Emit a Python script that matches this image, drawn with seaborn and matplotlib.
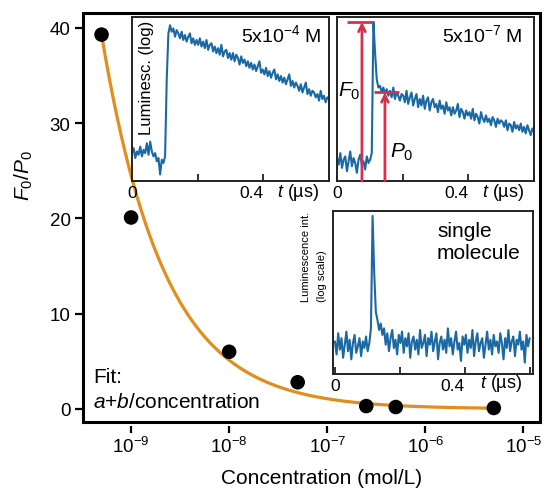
import numpy as np
import matplotlib
matplotlib.use("Agg")
import matplotlib.pyplot as plt
from matplotlib.patches import Rectangle
from matplotlib.ticker import NullLocator
import seaborn as sns

# ---- F0/P0 ratio versus concentration ----
concentration = [5e-10, 1e-9, 1e-8, 5e-8, 2.5e-7, 5e-7, 5e-6]
ratio = [39.3, 20.1, 6.0, 2.8, 0.3, 0.2, 0.1]

# fitted curve: offset + amplitude * concentration^(-exponent)
fit_offset = 0.0
fit_amplitude = 1.86e-5
fit_exponent = 0.68

y_ticks = [0, 10, 20, 30, 40]
x_ticks = [1e-9, 1e-8, 1e-7, 1e-6, 1e-5]
x_tick_labels = [r"$10^{-9}$", r"$10^{-8}$", r"$10^{-7}$", r"$10^{-6}$", r"$10^{-5}$"]

# ---- luminescence transients (log intensity, arbitrary units) ----
trace_high = [
    17, 20, 14, 18, 16, 21, 15, 19, 17, 23, 16, 24, 18, 15, 17, 12, 14, 4, 13, 11, 15,
    62, 90,
    95, 91, 93, 88, 92, 90, 87,
    91, 86, 89, 85, 88, 90, 84, 87, 83, 86,
    83, 87, 82, 85, 81, 86, 80, 83, 84, 79,
    82, 78, 81, 77, 83, 76, 79, 80, 75, 78,
    74, 78, 73, 77, 75, 71, 76, 72, 74, 70,
    73, 69, 72, 68, 71, 67, 70, 73, 66, 68,
    65, 69, 64, 67, 63, 66, 68, 62, 65, 61,
    64, 60, 63, 59, 62, 65, 58, 61, 57, 60,
    58, 55, 59, 54, 57, 60, 53, 56, 52, 55,
    54, 51, 53, 49, 55, 50, 52, 48, 51, 50,
]
trace_low = [
    14, 10, 17, 8, 13, 15, 6, 12, 18, 9, 14, 11, 5, 13, 16, 10, 12, 7, 15, 11, 13, 17,
    97, 78, 62, 57,
    58, 54, 57, 53,
    56, 52, 55, 51, 57, 50, 54, 52, 49, 53,
    52, 48, 55, 47, 51, 54, 46, 50, 53, 45,
    50, 46, 52, 44, 49, 51, 43, 48, 50, 45,
    47, 42, 49, 44, 46, 41, 48, 43, 45, 40,
    45, 41, 43, 47, 39, 44, 42, 38, 43, 40,
    42, 38, 44, 37, 41, 39, 35, 42, 38, 36,
    40, 36, 38, 34, 39, 37, 33, 38, 35, 37,
    36, 33, 37, 31, 35, 34, 30, 36, 32, 34,
    31, 35, 30, 33, 29, 34, 31, 28, 32, 30,
]
trace_single = [
    20, 12, 25, 15, 22, 10, 18, 26, 14, 21, 9, 19, 24, 13, 17, 22, 11, 20, 16, 23, 14, 19,
    28, 97, 62, 38, 33, 27, 31, 24,
    28, 18, 25, 14, 22, 27, 16, 21, 12, 24,
    19, 26, 13, 22, 17, 25, 10, 20, 23, 15,
    21, 12, 27, 16, 19, 24, 11, 22, 18, 26,
    14, 20, 25, 9, 19, 23, 15, 21, 13, 28,
    17, 22, 12, 20, 26, 15, 19, 8, 23, 18,
    24, 13, 21, 16, 27, 11, 20, 25, 14, 19,
    22, 10, 18, 26, 15, 21, 12, 24, 17, 20,
    13, 25, 19, 9, 22, 16, 27, 14, 20, 23,
    11, 21, 18, 26, 15, 20, 7, 24, 17, 22,
]
trace_span_us = 0.6

# levels marked on the 5x10^-7 M transient
F0_level = 97
P0_level = 54

conc_labels = [r"5x10$^{-4}$ M", r"5x10$^{-7}$ M"]

ORANGE = "#E38D1C"
BLUE = "#1A69A4"
RED = "#D7304A"

sns.set_theme(style="ticks")
plt.rcParams["font.family"] = ["Liberation Sans", "DejaVu Sans"]
plt.rcParams["mathtext.fontset"] = "custom"
plt.rcParams["mathtext.rm"] = "Liberation Sans"
plt.rcParams["mathtext.it"] = "Liberation Sans:italic"
plt.rcParams["mathtext.bf"] = "Liberation Sans:bold"
plt.rcParams["mathtext.sf"] = "Liberation Sans"
for key in ["text.color", "axes.labelcolor", "xtick.color", "ytick.color",
            "xtick.labelcolor", "ytick.labelcolor"]:
    plt.rcParams[key] = "black"

fig = plt.figure(figsize=(5.44, 4.89), dpi=100)
fig.patch.set_facecolor("white")

# ---------------- main panel ----------------
ax = fig.add_axes([0.1526, 0.135, 0.8401, 0.8364])
ax.set_facecolor("white")
ax.set_xscale("log")

c_fit = np.logspace(np.log10(min(concentration)), np.log10(max(concentration)), 300)
r_fit = fit_offset + fit_amplitude * c_fit ** (-fit_exponent)
sns.lineplot(x=c_fit, y=r_fit, color=ORANGE, lw=2.3, ax=ax, zorder=3, estimator=None)
sns.scatterplot(x=concentration, y=ratio, s=110, color="black", edgecolor="none",
                ax=ax, zorder=4)

ax.set_xlim(10 ** -9.49, 10 ** -4.83)
ax.set_ylim(-1.37, 41.57)
ax.set_yticks(y_ticks)
ax.set_xticks(x_ticks)
ax.set_xticklabels(x_tick_labels)
ax.xaxis.set_minor_locator(NullLocator())
ax.yaxis.set_minor_locator(NullLocator())

for side in ["top", "right", "left", "bottom"]:
    ax.spines[side].set_visible(False)
ax.spines["bottom"].set_position(("outward", 3))
ax.add_patch(Rectangle((0, 0), 1, 1, transform=ax.transAxes, fill=False,
                       lw=2.2, ec="black", clip_on=False, zorder=6))

ax.tick_params(axis="y", direction="out", length=6, width=1.6, labelsize=13.5,
               pad=3, color="black", labelcolor="black")
ax.tick_params(axis="x", direction="out", length=5, width=1.6, labelsize=13.5,
               pad=2, color="black", labelcolor="black")

ax.set_ylabel(r"$F_0/P_0$", fontsize=15)
ax.yaxis.set_label_coords(-0.105, 0.604)
ax.set_xlabel("Concentration (mol/L)", fontsize=15)
ax.xaxis.set_label_coords(0.523, -0.112)

ax.text(0.022, 0.112, "Fit:", fontsize=15, va="center", ha="left", transform=ax.transAxes)
ax.text(0.022, 0.051, r"$a$+$b$/concentration", fontsize=15, va="center", ha="left",
        transform=ax.transAxes)


# ---------------- inset transients ----------------
def make_inset(rect, xlim):
    a = fig.add_axes(rect)
    a.set_facecolor("white")
    a.set_zorder(10)
    for side in a.spines.values():
        side.set_linewidth(1.4)
        side.set_color("#222222")
    a.set_xlim(*xlim)
    a.set_ylim(0, 100)
    a.set_yticks([])
    a.set_xticks([0, 0.2, 0.4, 0.6])
    labels = a.set_xticklabels(["0", "", "0.4", ""])
    labels[2].set_horizontalalignment("right")
    a.tick_params(axis="x", direction="in", length=5, width=1.3, labelsize=12.5,
                  pad=3, color="#222222")
    a.text(0.843, -0.067, r"$t$ (µs)", fontsize=13, ha="center", va="center",
           transform=a.transAxes)
    return a


def draw_trace(a, values):
    t = np.linspace(0, trace_span_us, len(values))
    sns.lineplot(x=t, y=values, color=BLUE, lw=1.5, ax=a, estimator=None, zorder=2)
    a.set_xlabel("")
    a.set_ylabel("")


ax1 = make_inset([0.2426, 0.6278, 0.3621, 0.3354], (0, 0.6))
draw_trace(ax1, trace_high)
ax1.text(0.964, 0.896, conc_labels[0], fontsize=14, ha="right", va="center",
         transform=ax1.transAxes)
ax1.text(0.076, 0.634, "Luminesc. (log)", fontsize=12, rotation=90, ha="center",
         va="center", transform=ax1.transAxes)

ax2 = make_inset([0.6195, 0.6278, 0.3621, 0.3354], (0, 0.6))
draw_trace(ax2, trace_low)
ax2.text(0.944, 0.896, conc_labels[1], fontsize=14, ha="right", va="center",
         transform=ax2.transAxes)
# F0: prompt peak level, P0: delayed plateau level
ax2.plot([0.03, 0.109], [F0_level, F0_level], color=RED, lw=2, zorder=3,
         solid_capstyle="butt")
ax2.annotate("", xy=(0.076, F0_level), xytext=(0.076, 0),
             arrowprops=dict(arrowstyle="->", color=RED, lw=2, shrinkA=0, shrinkB=0,
                             mutation_scale=12), zorder=3)
ax2.plot([0.112, 0.19], [P0_level, P0_level], color=RED, lw=2, zorder=3,
         solid_capstyle="butt")
ax2.annotate("", xy=(0.146, P0_level), xytext=(0.146, 0),
             arrowprops=dict(arrowstyle="->", color=RED, lw=2, shrinkA=0, shrinkB=0,
                             mutation_scale=12), zorder=3)
ax2.text(0.062, 0.555, r"$F_0$", fontsize=15, ha="center", va="center",
         transform=ax2.transAxes)
ax2.text(0.33, 0.183, r"$P_0$", fontsize=15, ha="center", va="center",
         transform=ax2.transAxes)

ax3 = make_inset([0.6121, 0.2331, 0.3676, 0.3333], (-0.006, 0.61))
draw_trace(ax3, trace_single)
ax3.texts[0].set_position((0.84, -0.05))
ax3.text(0.52, 0.94, "single\nmolecule", fontsize=15, ha="left", va="top",
         linespacing=1.2, transform=ax3.transAxes)
ax3.text(-0.095, 0.448, "Luminescence int.\n(log scale)", fontsize=8, rotation=90,
         ha="center", va="bottom", multialignment="left", linespacing=1.75,
         transform=ax3.transAxes)

fig.savefig("out.png", dpi=100, facecolor="white")
